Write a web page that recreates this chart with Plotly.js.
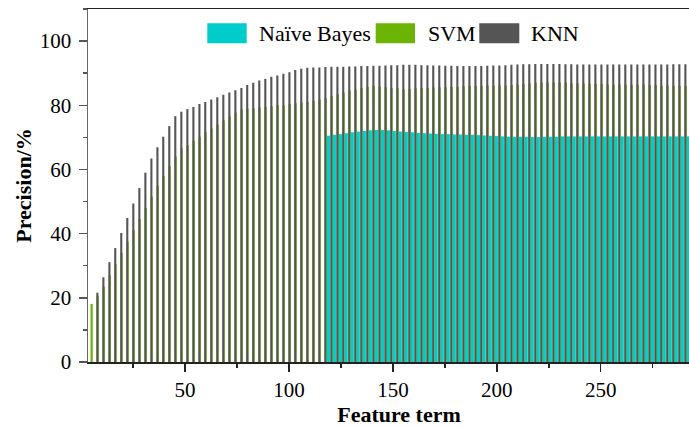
<!DOCTYPE html>
<html><head><meta charset="utf-8">
<script src="https://cdn.plot.ly/plotly-3.0.1.min.js"></script>
<style>html,body{margin:0;padding:0;background:#fff;overflow:hidden;width:689px;height:427px}#chart{width:710px;height:427px}</style>
</head><body><div id="chart"></div>
<script>
const featureTerms = [
  4.9, 7.8, 10.7, 13.6, 16.4, 19.3, 22.2, 25.1, 28.0, 30.9,
  33.8, 36.7, 39.5, 42.4, 45.3, 48.2, 51.1, 54.0, 56.9, 59.7,
  62.6, 65.5, 68.4, 71.3, 74.2, 77.1, 79.9, 82.8, 85.7, 88.6,
  91.5, 94.4, 97.3, 100.2, 103.0, 105.9, 108.8, 111.7, 114.6, 117.5,
  120.4, 123.3, 126.1, 129.0, 131.9, 134.8, 137.7, 140.6, 143.5, 146.4,
  149.2, 152.1, 155.0, 157.9, 160.8, 163.7, 166.6, 169.4, 172.3, 175.2,
  178.1, 181.0, 183.9, 186.8, 189.7, 192.5, 195.4, 198.3, 201.2, 204.1,
  207.0, 209.9, 212.7, 215.6, 218.5, 221.4, 224.3, 227.2, 230.1, 233.0,
  235.8, 238.7, 241.6, 244.5, 247.4, 250.3, 253.2, 256.0, 258.9, 261.8,
  264.7, 267.6, 270.5, 273.4, 276.3, 279.1, 282.0, 284.9, 287.8, 290.7
];
const naiveBayes = [
  null, null, null, null, null, null, null, null, null, null,
  null, null, null, null, null, null, null, null, null, null,
  null, null, null, null, null, null, null, null, null, null,
  null, null, null, null, null, null, null, null, null, 70.5,
  70.8, 71.0, 71.3, 71.6, 71.8, 72.0, 72.2, 72.3, 72.3, 72.2,
  72.0, 71.8, 71.7, 71.6, 71.4, 71.3, 71.2, 71.1, 71.0, 71.0,
  70.9, 70.9, 70.8, 70.8, 70.7, 70.6, 70.5, 70.4, 70.3, 70.2,
  70.2, 70.2, 70.2, 70.1, 70.1, 70.2, 70.2, 70.2, 70.3, 70.3,
  70.3, 70.3, 70.3, 70.3, 70.3, 70.3, 70.3, 70.3, 70.3, 70.3,
  70.3, 70.3, 70.3, 70.3, 70.3, 70.3, 70.3, 70.3, 70.3, 70.3
];
const svm = [
  18.1, 20.5, 23.5, 27.0, 30.5, 34.0, 37.5, 41.0, 44.5, 48.0,
  51.5, 55.0, 58.0, 61.0, 64.0, 66.6, 67.6, 68.9, 70.2, 71.6,
  72.8, 74.0, 75.3, 76.5, 77.7, 78.7, 79.0, 79.1, 79.3, 79.5,
  79.7, 80.0, 80.0, 80.4, 80.6, 80.8, 81.1, 81.4, 81.8, 82.3,
  82.9, 83.4, 84.0, 84.5, 84.9, 85.4, 85.7, 86.0, 85.8, 85.6,
  85.4, 85.3, 85.0, 85.1, 85.3, 85.4, 85.4, 85.5, 85.6, 85.6,
  85.7, 85.8, 85.9, 86.0, 86.0, 86.1, 86.2, 86.2, 86.2, 86.2,
  86.3, 86.4, 86.7, 86.9, 87.0, 87.0, 87.1, 87.1, 87.1, 87.0,
  86.9, 86.9, 86.8, 86.7, 86.7, 86.6, 86.5, 86.5, 86.4, 86.4,
  86.4, 86.4, 86.4, 86.3, 86.3, 86.2, 86.2, 86.1, 86.1, 86.1
];
const knn = [
  null, 21.6, 26.4, 31.1, 35.5, 40.2, 44.9, 49.4, 54.2, 59.0, 63.4,
  66.9, 70.2, 73.5, 76.6, 78.0, 78.8, 79.5, 80.4, 81.0, 81.8,
  82.5, 83.3, 84.0, 84.7, 85.4, 86.3, 87.0, 87.7, 88.3, 88.9,
  89.3, 89.8, 90.3, 91.0, 91.4, 91.7, 91.8, 91.8, 91.9, 92.0,
  92.0, 92.0, 92.1, 92.1, 92.2, 92.2, 92.3, 92.3, 92.4, 92.5,
  92.5, 92.6, 92.6, 92.6, 92.5, 92.5, 92.4, 92.4, 92.3, 92.3,
  92.2, 92.2, 92.2, 92.2, 92.2, 92.3, 92.4, 92.4, 92.5, 92.6,
  92.7, 92.8, 92.8, 92.9, 92.9, 92.9, 92.9, 92.9, 92.8, 92.8,
  92.7, 92.7, 92.7, 92.7, 92.7, 92.7, 92.7, 92.7, 92.7, 92.7,
  92.7, 92.7, 92.7, 92.7, 92.7, 92.7, 92.8, 92.8, 92.8
];
const seriesNames = ['Naïve Bayes', 'SVM', 'KNN'];
const seriesColors = ['#00cccc', '#6cb404', '#555555'];
const xTickValues = [50, 100, 150, 200, 250];
const yTickValues = [0, 20, 40, 60, 80, 100];

const PX = 0.4811; // one pixel in x data units
const FONT = 'Liberation Serif, Times New Roman, serif';

const traces = [
  {type: 'bar', name: seriesNames[1], x: featureTerms, y: svm,
   offset: -0.8 * PX, width: 2.3 * PX, marker: {color: seriesColors[1], line: {width: 0}}},
  {type: 'bar', name: seriesNames[2], x: featureTerms, y: knn,
   offset: -1.0 * PX, width: 2.1 * PX, marker: {color: seriesColors[2], line: {width: 0}}},
  {type: 'bar', name: seriesNames[0], x: featureTerms, y: naiveBayes,
   offset: 1.5 * PX, width: 3.1 * PX, marker: {color: seriesColors[0], line: {width: 0}}}
];

const W = 622; // plot-area width in px
const px2paper = p => (p - 88) / W;
const legendItems = [
  {sw: [207.3, 246.7], tx: 256.5, i: 0},
  {sw: [375.7, 415.0], tx: 425.8, i: 1},
  {sw: [479.3, 519.3], tx: 529.2, i: 2}
];
const shapes = legendItems.map(it => ({
  type: 'rect', xref: 'paper', yref: 'paper',
  x0: px2paper(it.sw[0]), x1: px2paper(it.sw[1]), y0: 0.9028, y1: 0.9595,
  fillcolor: seriesColors[it.i], line: {width: 0}
}));
const annotations = legendItems.map(it => ({
  xref: 'paper', yref: 'paper', x: px2paper(it.tx), y: 0.931,
  xanchor: 'left', yanchor: 'middle', showarrow: false,
  text: seriesNames[it.i], font: {family: FONT, size: 22, color: '#000'}
}));

const layout = {
  width: 710, height: 427,
  margin: {l: 88, r: 0, t: 9, b: 65},
  paper_bgcolor: '#fff', plot_bgcolor: '#fff',
  barmode: 'overlay',
  showlegend: false,
  font: {family: FONT, size: 21, color: '#000'},
  xaxis: {
    range: [3.32, 302.57], tickvals: xTickValues, ticks: 'outside', ticklen: 8, tickwidth: 1.5,
    tickcolor: '#222', showline: true, linecolor: '#222', linewidth: 1.5, mirror: true,
    showgrid: false, zeroline: false,
    minor: {dtick: 25, tick0: 0, ticks: 'outside', ticklen: 4, tickwidth: 1.5, tickcolor: '#222', showgrid: false},
    tickfont: {family: FONT, size: 21, color: '#000'},
    title: {text: 'Feature term', font: {family: FONT, size: 22, weight: 'bold', color: '#000'}, standoff: 0}
  },
  yaxis: {
    range: [0, 110], tickvals: yTickValues, ticks: 'outside', ticklen: 8, tickwidth: 1.5,
    tickcolor: '#555', showline: true, linecolor: '#666', linewidth: 1.5,
    showgrid: false, zeroline: false, ticklabelstandoff: 3,
    minor: {dtick: 10, tick0: 0, ticks: 'outside', ticklen: 4, tickwidth: 1.5, tickcolor: '#555', showgrid: false},
    tickfont: {family: FONT, size: 21, color: '#000'},
    title: {text: 'Precision/%', font: {family: FONT, size: 22, weight: 'bold', color: '#000'}, standoff: 2}
  },
  shapes: shapes,
  annotations: annotations
};

Plotly.newPlot('chart', traces, layout, {displayModeBar: false, staticPlot: true});
</script>
</body></html>
